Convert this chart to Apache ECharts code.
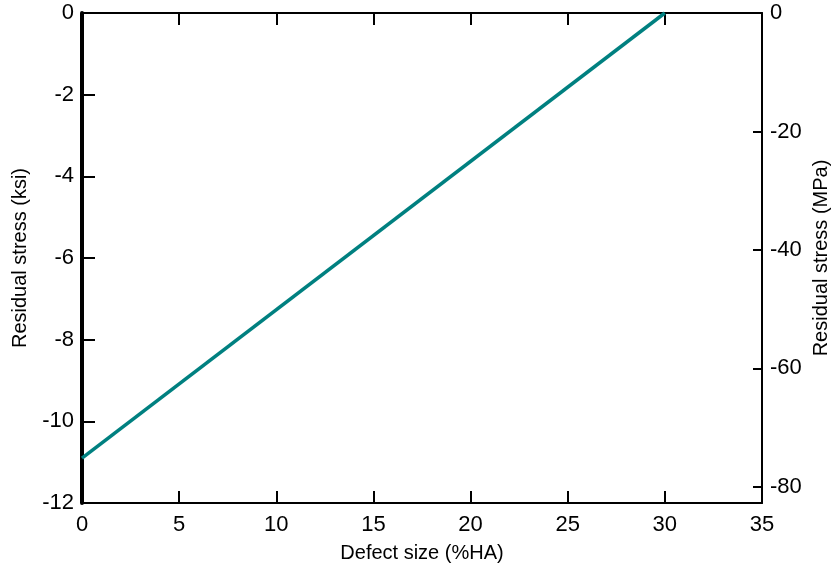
<!DOCTYPE html>
<html><head><meta charset="utf-8">
<script src="https://cdn.jsdelivr.net/npm/echarts@6/dist/echarts.min.js"></script>
<style>html,body{margin:0;padding:0;background:#fff}#c{width:831px;height:575px}</style>
</head><body><div id="c"></div>
<script>
const defectSize = [0, 30];
const stressKsi = [-10.9, 0];
const xTicks = [0, 5, 10, 15, 20, 25, 30, 35];
const ksiTicks = [0, -2, -4, -6, -8, -10, -12];
const mpaTicks = [0, -20, -40, -60, -80];
const KSI_TO_MPA = 6.89476;

const font = 'Liberation Sans, Arial, sans-serif';
const chart = echarts.init(document.getElementById('c'));
const axisLine = w => ({show: true, onZero: false, lineStyle: {color: '#000', width: w}});
const tick = len => ({show: true, inside: true, length: len, lineStyle: {color: '#000', width: 2}});
chart.setOption({
  animation: false,
  grid: {left: 82, right: 69, top: 13, bottom: 72, containLabel: false, outerBoundsMode: 'none'},
  xAxis: [
    {type: 'value', position: 'bottom', min: 0, max: 35, interval: 5,
     name: 'Defect size (%HA)', nameLocation: 'middle', nameGap: 40,
     nameTextStyle: {fontFamily: font, fontSize: 20, color: '#000'},
     axisLine: axisLine(2), axisTick: tick(12),
     axisLabel: {fontFamily: font, fontSize: 22, color: '#000', margin: 11},
     splitLine: {show: false}},
    {type: 'value', position: 'top', min: 0, max: 35, interval: 5,
     axisLine: axisLine(2), axisTick: tick(12),
     axisLabel: {show: false}, splitLine: {show: false}}
  ],
  yAxis: [
    {type: 'value', position: 'left', min: -12, max: 0, interval: 2,
     name: 'Residual stress (ksi)', nameLocation: 'middle', nameGap: 52, nameRotate: 90, nameMoveOverlap: false,
     nameTextStyle: {fontFamily: font, fontSize: 20, color: '#000'},
     axisLine: axisLine(4), axisTick: tick(13),
     axisLabel: {fontFamily: font, fontSize: 22, color: '#000', margin: 8},
     splitLine: {show: false}},
    {type: 'value', position: 'right', min: -12 * KSI_TO_MPA, max: 0,
     name: 'Residual stress (MPa)', nameLocation: 'middle', nameGap: 49, nameRotate: 90, nameMoveOverlap: false,
     nameTextStyle: {fontFamily: font, fontSize: 20, color: '#000'},
     axisLine: axisLine(2),
     axisTick: Object.assign(tick(9), {customValues: mpaTicks}),
     axisLabel: {fontFamily: font, fontSize: 22, color: '#000', margin: 8, customValues: mpaTicks},
     splitLine: {show: false}}
  ],
  series: [{
    type: 'line', xAxisIndex: 0, yAxisIndex: 0, showSymbol: false,
    data: defectSize.map((x, i) => [x, stressKsi[i]]),
    lineStyle: {color: '#008080', width: 3.5}
  }]
});
</script></body></html>
